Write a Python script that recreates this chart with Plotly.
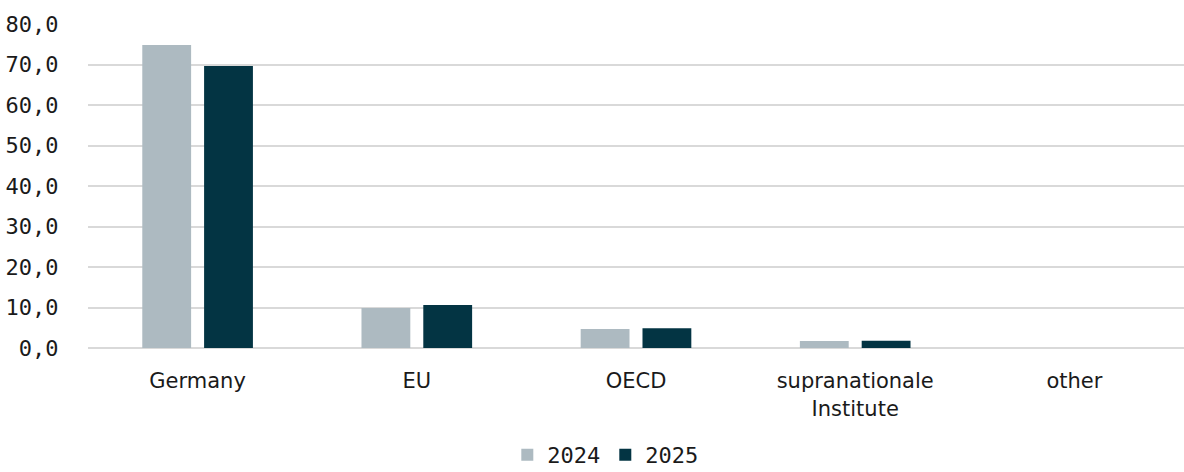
import plotly.graph_objects as go

categories = ["Germany", "EU", "OECD", "supranationale<br>Institute", "other"]
values_2024 = [74.8, 9.9, 4.7, 1.7, 0.0]
values_2025 = [69.6, 10.6, 4.9, 1.8, 0.0]
series_names = ["2024", "2025"]
tick_values = [0, 10, 20, 30, 40, 50, 60, 70, 80]

mono = "DejaVu Sans Mono, monospace"

fig = go.Figure()
fig.add_trace(go.Bar(x=categories, y=values_2024, name=series_names[0],
                     marker=dict(color="#adbac1", line=dict(width=0))))
fig.add_trace(go.Bar(x=categories, y=values_2025, name=series_names[1],
                     marker=dict(color="#033443", line=dict(width=0))))

fig.update_layout(
    width=1184, height=472,
    margin=dict(l=88, r=0, t=24, b=124, autoexpand=False),
    paper_bgcolor="white", plot_bgcolor="white",
    barmode="group", bargap=0.436, bargroupgap=0.21,
    separators=",.",
    font=dict(family="DejaVu Sans, sans-serif", size=21, color="#1a1a1a"),
    legend=dict(orientation="h", x=0.472, xanchor="center", y=-0.33, yanchor="middle",
                font=dict(family=mono, size=22, color="#1a1a1a"),
                itemwidth=30, traceorder="normal", tracegroupgap=0,
                bgcolor="rgba(0,0,0,0)"),
    xaxis=dict(showgrid=False, showline=False, tickfont=dict(size=21),
               ticks="outside", ticklen=14, tickcolor="rgba(0,0,0,0)",
               range=[-0.5, 4.5], automargin=False),
    yaxis=dict(range=[0, 80], tickvals=tick_values, tickformat=".1f",
               showgrid=True, gridcolor="#d9d9d9", gridwidth=1.5,
               zeroline=True, zerolinecolor="#d9d9d9", zerolinewidth=1.5,
               tickfont=dict(family=mono, size=22, color="#1a1a1a"),
               ticks="outside", ticklen=24, tickcolor="rgba(0,0,0,0)",
               automargin=False),
)

fig.write_html("out.html")
